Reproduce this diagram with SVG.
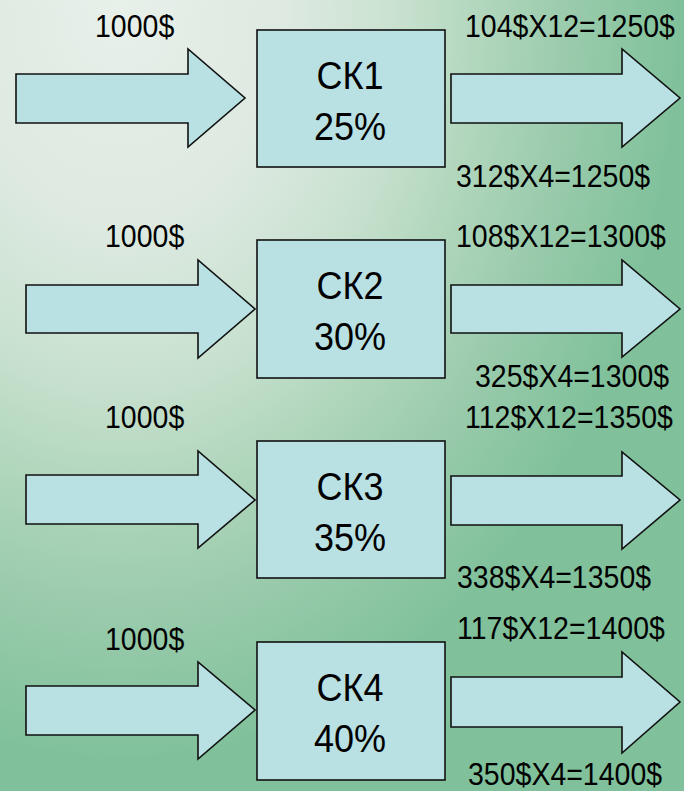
<svg xmlns="http://www.w3.org/2000/svg" width="684" height="791" viewBox="0 0 684 791">
<defs>
<radialGradient id="bg" gradientUnits="userSpaceOnUse" cx="0" cy="0" r="1" gradientTransform="translate(120,0) scale(560,760)">
<stop offset="0" stop-color="#e8f0ea"/>
<stop offset="0.3" stop-color="#dde9e1"/>
<stop offset="0.5" stop-color="#c8e1cf"/>
<stop offset="0.65" stop-color="#b0d6bc"/>
<stop offset="0.8" stop-color="#9acbac"/>
<stop offset="1" stop-color="#80c19b"/>
</radialGradient>
<style>
.shape{fill:#b9e0e2;stroke:#111;stroke-width:1.6;stroke-linejoin:miter}
.lbl{font-family:"Liberation Sans",Arial,sans-serif;font-size:28.5px;fill:#000}
.big{font-family:"Liberation Sans",Arial,sans-serif;font-size:36px;fill:#000;text-anchor:middle}
</style>
</defs>
<rect width="684" height="791" fill="url(#bg)"/>
<g id="connectors">
<polygon class="shape" points="16,74 188,74 188,49 245,98 188,147 188,123 16,123"/>
<polygon class="shape" points="451,74 622,74 622,49 680,98 622,147 622,123 451,123"/>
<polygon class="shape" points="26,285 198,285 198,260 255,309 198,358 198,333 26,333"/>
<polygon class="shape" points="451,285 622,285 622,260 680,309 622,357 622,333 451,333"/>
<polygon class="shape" points="26,475 198,475 198,451 255,500 198,548 198,524 26,524"/>
<polygon class="shape" points="451,476 622,476 622,452 680,500 622,549 622,525 451,525"/>
<polygon class="shape" points="26,686 198,686 198,662 255,710 198,759 198,735 26,735"/>
<polygon class="shape" points="451,677 622,677 622,652 680,702 622,753 622,727 451,727"/>
</g>
<g id="sk1">
<rect class="shape" x="257" y="30" width="188" height="137"/>
<text class="big" transform="translate(350,89) scale(1,1.1)">СК1</text>
<text class="big" transform="translate(350,140) scale(1,1.1)">25%</text>
</g>
<g id="sk2">
<rect class="shape" x="257" y="240" width="188" height="138"/>
<text class="big" transform="translate(350,299) scale(1,1.1)">СК2</text>
<text class="big" transform="translate(350,350) scale(1,1.1)">30%</text>
</g>
<g id="sk3">
<rect class="shape" x="257" y="441" width="188" height="137"/>
<text class="big" transform="translate(350,500) scale(1,1.1)">СК3</text>
<text class="big" transform="translate(350,551) scale(1,1.1)">35%</text>
</g>
<g id="sk4">
<rect class="shape" x="257" y="642" width="188" height="138"/>
<text class="big" transform="translate(350,701) scale(1,1.1)">СК4</text>
<text class="big" transform="translate(350,752) scale(1,1.1)">40%</text>
</g>
<g id="labels">
<text class="lbl" transform="translate(95,37) scale(1,1.12)">1000$</text>
<text class="lbl" transform="translate(465,37) scale(1,1.12)">104$X12=1250$</text>
<text class="lbl" transform="translate(456,187) scale(1,1.12)">312$X4=1250$</text>
<text class="lbl" transform="translate(105,247) scale(1,1.12)">1000$</text>
<text class="lbl" transform="translate(456,247) scale(1,1.12)">108$X12=1300$</text>
<text class="lbl" transform="translate(475,387) scale(1,1.12)">325$X4=1300$</text>
<text class="lbl" transform="translate(105,428) scale(1,1.12)">1000$</text>
<text class="lbl" transform="translate(465,428) scale(1,1.12)">112$X12=1350$</text>
<text class="lbl" transform="translate(457,588) scale(1,1.12)">338$X4=1350$</text>
<text class="lbl" transform="translate(105,650) scale(1,1.12)">1000$</text>
<text class="lbl" transform="translate(457,639) scale(1,1.12)">117$X12=1400$</text>
<text class="lbl" transform="translate(468,785) scale(1,1.12)">350$X4=1400$</text>
</g>
</svg>
